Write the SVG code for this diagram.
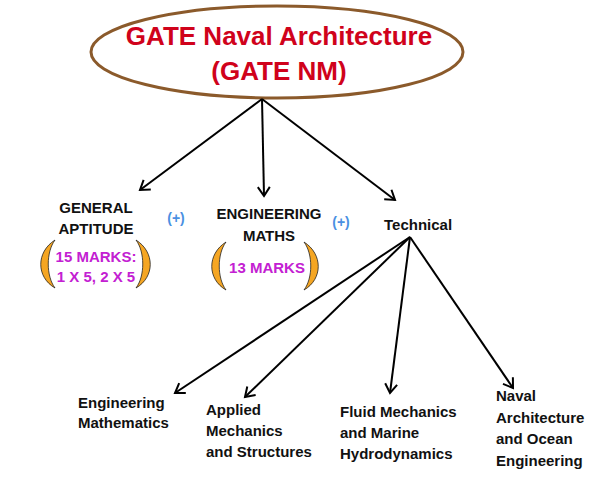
<svg xmlns="http://www.w3.org/2000/svg" width="595" height="479" viewBox="0 0 595 479">
<style>
.t{font-family:"Liberation Sans",Arial,sans-serif;font-weight:bold;}
.lbl{font-size:15px;fill:#111;}
.title{font-size:26px;fill:#d0021b;text-anchor:middle;}
.plus{font-size:14px;fill:#4a90e2;text-anchor:middle;}
.mk{font-size:15px;fill:#c320d2;text-anchor:middle;}
.br{fill:#f5a623;stroke:#222;stroke-width:0.8;}
.c{stroke:#000;stroke-width:2;fill:none;marker-end:url(#ah);}
</style>
<defs>
<marker id="ah" markerWidth="14" markerHeight="14" refX="10" refY="7" orient="auto" markerUnits="userSpaceOnUse">
<polyline points="1,1 10,7 1,13" fill="none" stroke="#000" stroke-width="2"/>
</marker>
</defs>
<g id="root">
<ellipse cx="277" cy="52" rx="186" ry="46" fill="#fff" stroke="#8b5a2b" stroke-width="3"/>
<text class="t title" x="279" y="45">GATE Naval Architecture</text>
<text class="t title" x="279" y="80">(GATE NM)</text>
</g>
<g id="connectors">
<line class="c" x1="262" y1="99" x2="140" y2="190"/>
<line class="c" x1="262" y1="99" x2="264" y2="196"/>
<line class="c" x1="262" y1="99" x2="395" y2="200"/>
<line class="c" x1="410" y1="237" x2="175" y2="393"/>
<line class="c" x1="410" y1="237" x2="245" y2="397"/>
<line class="c" x1="410" y1="237" x2="390" y2="393"/>
<line class="c" x1="410" y1="237" x2="513" y2="388"/>
</g>
<g id="general-aptitude">
<text class="t lbl" x="96" y="213" text-anchor="middle">GENERAL</text>
<text class="t lbl" x="96" y="234" text-anchor="middle">APTITUDE</text>
<path class="br" d="M55,240 C36,252 36,277 55,288 C46,276 46,252 55,240 Z"/>
<path class="br" d="M136,240 C155,252 155,277 136,288 C145,276 145,252 136,240 Z"/>
<text class="t mk" x="96" y="262">15 MARKS:</text>
<text class="t mk" x="96" y="282">1 X 5, 2 X 5</text>
</g>
<g id="plus1"><text class="t plus" x="176" y="223">(+)</text></g>
<g id="engineering-maths">
<text class="t lbl" x="269" y="219" text-anchor="middle">ENGINEERING</text>
<text class="t lbl" x="269" y="241" text-anchor="middle">MATHS</text>
<path class="br" d="M226,242 C207,254 207,279 226,290 C217,278 217,254 226,242 Z"/>
<path class="br" d="M304,242 C323,254 323,279 304,290 C313,278 313,254 304,242 Z"/>
<text class="t mk" x="267" y="273">13 MARKS</text>
</g>
<g id="plus2"><text class="t plus" x="341" y="227">(+)</text></g>
<g id="technical"><text class="t lbl" x="384" y="230">Technical</text></g>
<g id="eng-math">
<text class="t lbl" x="78" y="408">Engineering</text>
<text class="t lbl" x="78" y="428">Mathematics</text>
</g>
<g id="applied">
<text class="t lbl" x="206" y="415">Applied</text>
<text class="t lbl" x="206" y="436">Mechanics</text>
<text class="t lbl" x="206" y="457">and Structures</text>
</g>
<g id="fluid">
<text class="t lbl" x="340" y="417">Fluid Mechanics</text>
<text class="t lbl" x="340" y="438">and Marine</text>
<text class="t lbl" x="340" y="459">Hydrodynamics</text>
</g>
<g id="naval">
<text class="t lbl" x="496" y="401">Naval</text>
<text class="t lbl" x="496" y="423">Architecture</text>
<text class="t lbl" x="496" y="444">and Ocean</text>
<text class="t lbl" x="496" y="466">Engineering</text>
</g>
</svg>
